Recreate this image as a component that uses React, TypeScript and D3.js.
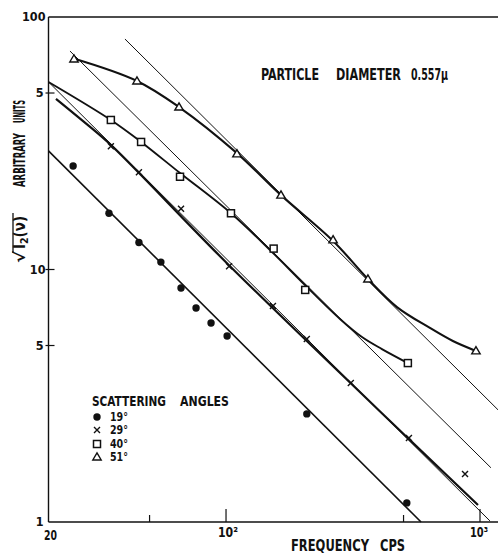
import React from 'react';
import * as d3 from 'd3';

// Measured points (frequency in cps, sqrt(I2(v)) in arbitrary units)
const freq19 = [25.0, 34.6, 45.4, 55.4, 66.5, 76.2, 87.3, 101, 208, 515];
const val19 = [25.7, 16.7, 12.8, 10.7, 8.45, 7.04, 6.14, 5.45, 2.68, 1.19];
const freq29 = [35.2, 45.4, 66.5, 102.8, 153, 208, 310, 525, 873];
const val29 = [30.8, 24.3, 17.4, 10.3, 7.17, 5.31, 3.55, 2.15, 1.55];
const freq40 = [35.2, 46.3, 65.9, 104.6, 154, 205, 520];
const val40 = [39.1, 32.0, 23.3, 16.7, 12.1, 8.3, 4.26];
const freq51 = [25.2, 44.6, 65.3, 110.4, 164.6, 264, 362, 964];
const val51 = [68.2, 55.8, 44.0, 28.7, 19.7, 13.1, 9.17, 4.76];

// Drawn curves / asymptotes
const fit19Freq = [20, 586];
const fit19Val = [29.5, 1.0];
const fit29Freq = [21.4, 27.6, 35.6, 102.7, 525, 982];
const fit29Val = [47.4, 38.4, 30.8, 10.4, 2.13, 1.168];
const asym29Freq = [20, 1094];
const asym29Val = [55.3, 1.01];
const fit40Freq = [20, 35.2, 46.3, 65.9, 104.6, 149, 204.6, 281, 343, 411, 520];
const fit40Val = [55.3, 39.1, 32.0, 24.1, 16.7, 11.95, 8.68, 6.37, 5.4, 4.84, 4.26];
const asym40Freq = [24.3, 1104];
const asym40Val = [73.3, 1.64];
const fit51Freq = [24.75, 44.6, 65.3, 110.4, 164.6, 264, 362, 471, 635, 782, 964];
const fit51Val = [68.8, 55.8, 44.0, 28.9, 19.7, 12.97, 9.17, 7.1, 5.87, 5.21, 4.76];
const asym51Freq = [40.0, 1178];
const asym51Val = [81.8, 2.78];

const legendLabels = ['19°', '29°', '40°', '51°'];
const yTickVals = [100, 50, 10, 5, 1];
const yTickLabels = ['100', '5', '10', '5', '1'];
const xLabelVals = [20, 100, 1000];
const xLabelTexts = ['20', '10²', '10³'];
const xMinorTicks = [50, 500];
const xMajorTicks = [100, 1000];

type P = [number, number];
const zip = (f: number[], v: number[]): P[] => f.map((d, i) => [d, v[i]] as P);

const FONT = "'Liberation Sans Narrow', 'DejaVu Sans Condensed', 'Liberation Sans', Arial, sans-serif";
const INK = '#111';

export default function App() {
  const W = 498, H = 553;
  const x = d3.scaleLog().domain([20, 1000]).range([48.5, 480]);
  const y = d3.scaleLog().domain([1, 100]).range([522, 17]);
  const smooth = d3.line<P>().x(d => x(d[0])).y(d => y(d[1])).curve(d3.curveCatmullRom.alpha(0.5));
  const straight = d3.line<P>().x(d => x(d[0])).y(d => y(d[1]));

  const x0 = x(20);
  const yTop = y(100), yBot = y(1);

  const circle = (cx: number, cy: number, k: string) => (
    <circle key={k} cx={cx} cy={cy} r={3.7} fill={INK} />
  );
  const cross = (cx: number, cy: number, k: string) => (
    <path key={k} d={`M${cx - 3},${cy - 3}L${cx + 3},${cy + 3}M${cx - 3},${cy + 3}L${cx + 3},${cy - 3}`} stroke={INK} strokeWidth={1.4} />
  );
  const square = (cx: number, cy: number, k: string) => (
    <rect key={k} x={cx - 3.5} y={cy - 3.5} width={7} height={7} fill="#fff" stroke={INK} strokeWidth={1.5} />
  );
  const tri = (cx: number, cy: number, k: string) => (
    <path key={k} d={`M${cx},${cy - 4.2}L${cx + 4.2},${cy + 3}L${cx - 4.2},${cy + 3}Z`} fill="#fff" stroke={INK} strokeWidth={1.4} />
  );

  const legendRows = [417, 430, 444, 457];
  const legendSyms = [circle, cross, square, tri];
  const xLabelStart = [-4.5, -8, -10];
  const xLabelLen = [13, 20, 18];
  const xLabelBase = [540, 537, 537];

  return (
    <svg width={W} height={H} style={{ position: 'absolute', left: 0, top: 0, background: '#fff' }} fontFamily={FONT} fontWeight="bold">
      <rect width={W} height={H} fill="#fff" />
      {/* frame */}
      <line x1={x0} y1={yTop} x2={x0} y2={yBot} stroke={INK} strokeWidth={1.4} />
      <line x1={x0} y1={yTop} x2={W} y2={yTop} stroke={INK} strokeWidth={1.4} />
      <line x1={x0} y1={yBot} x2={W} y2={yBot} stroke={INK} strokeWidth={1.4} />

      {/* y ticks */}
      {yTickVals.slice(1, 4).map(v => (
        <line key={'yt' + v} x1={x0 - 3} x2={x0 + 6} y1={y(v)} y2={y(v)} stroke={INK} strokeWidth={1.2} />
      ))}
      {/* x ticks */}
      {xMinorTicks.map(v => (
        <line key={'xm' + v} x1={x(v)} x2={x(v)} y1={yBot} y2={yBot - 7} stroke={INK} strokeWidth={1.2} />
      ))}
      {xMajorTicks.map(v => (
        <line key={'xM' + v} x1={x(v)} x2={x(v)} y1={yBot} y2={yBot - 13} stroke={INK} strokeWidth={1.2} />
      ))}

      {/* y tick labels */}
      {yTickVals.map((v, i) => (
        <text key={'yl' + i} x={yTickLabels[i].length === 1 ? 43.5 : 45.5} y={y(v) + 4.4} textAnchor="end"
          fontSize={12.5} fill={INK}>{yTickLabels[i]}</text>
      ))}
      {/* x tick labels */}
      {xLabelVals.map((v, i) => (
        <text key={'xl' + i} x={x(v) + xLabelStart[i]} y={xLabelBase[i]} fontSize={14} fill={INK}
          textLength={xLabelLen[i]} lengthAdjust="spacingAndGlyphs">{xLabelTexts[i]}</text>
      ))}

      {/* asymptote thin lines */}
      <path d={straight(zip(asym29Freq, asym29Val))!} fill="none" stroke={INK} strokeWidth={1} />
      <path d={straight(zip(asym40Freq, asym40Val))!} fill="none" stroke={INK} strokeWidth={1} />
      <path d={straight(zip(asym51Freq, asym51Val))!} fill="none" stroke={INK} strokeWidth={1} />
      {/* fitted curves */}
      <path d={straight(zip(fit19Freq, fit19Val))!} fill="none" stroke={INK} strokeWidth={1.6} />
      <path d={smooth(zip(fit29Freq, fit29Val))!} fill="none" stroke={INK} strokeWidth={2.2} />
      <path d={smooth(zip(fit40Freq, fit40Val))!} fill="none" stroke={INK} strokeWidth={1.9} />
      <path d={smooth(zip(fit51Freq, fit51Val))!} fill="none" stroke={INK} strokeWidth={2.1} />

      {/* markers */}
      {freq19.map((f, i) => circle(x(f), y(val19[i]), 'c' + i))}
      {freq29.map((f, i) => cross(x(f), y(val29[i]), 'x' + i))}
      {freq40.map((f, i) => square(x(f), y(val40[i]), 's' + i))}
      {freq51.map((f, i) => tri(x(f), y(val51[i]), 't' + i))}

      {/* title */}
      <text x={261} y={80} fontSize={15} fill={INK} textLength={58} lengthAdjust="spacingAndGlyphs">PARTICLE</text>
      <text x={336} y={80} fontSize={15} fill={INK} textLength={65} lengthAdjust="spacingAndGlyphs">DIAMETER</text>
      <text x={411} y={80} fontSize={15} fill={INK} textLength={37} lengthAdjust="spacingAndGlyphs">0.557μ</text>

      {/* y axis label */}
      <g transform="translate(25,263) rotate(-90)" fill={INK} fontSize={15}>
        <text x={0} y={0} textLength={12} lengthAdjust="spacingAndGlyphs">√</text>
        <line x1={10} x2={50} y1={-12} y2={-12} stroke={INK} strokeWidth={1.3} />
        <text x={14} y={0}>
          <tspan>I</tspan>
          <tspan dy={3} fontSize={10.5}>2</tspan>
          <tspan dy={-3}>(ν)</tspan>
        </text>
        <text x={76} y={0} textLength={54} lengthAdjust="spacingAndGlyphs">ARBITRARY</text>
        <text x={140} y={0} textLength={23} lengthAdjust="spacingAndGlyphs">UNITS</text>
      </g>

      {/* x axis label */}
      <text x={291} y={550.5} fontSize={15} fill={INK} textLength={78} lengthAdjust="spacingAndGlyphs">FREQUENCY</text>
      <text x={380} y={550.5} fontSize={15} fill={INK} textLength={25} lengthAdjust="spacingAndGlyphs">CPS</text>

      {/* legend */}
      <text x={92} y={406} fontSize={14.5} fill={INK} textLength={74} lengthAdjust="spacingAndGlyphs">SCATTERING</text>
      <text x={180} y={406} fontSize={14.5} fill={INK} textLength={49} lengthAdjust="spacingAndGlyphs">ANGLES</text>
      {legendLabels.map((lab, i) => (
        <g key={'lg' + i}>
          {legendSyms[i](97, legendRows[i], 'ls' + i)}
          <text x={110} y={legendRows[i] + 4.2} fontSize={11.5} fill={INK} textLength={18} lengthAdjust="spacingAndGlyphs">{lab}</text>
        </g>
      ))}
    </svg>
  );
}
